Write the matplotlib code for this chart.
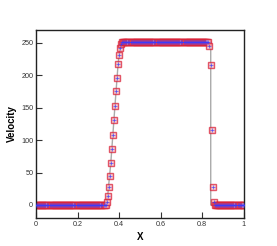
import numpy as np
import matplotlib.pyplot as plt

plt.rcParams['font.family'] = ['Liberation Sans', 'DejaVu Sans']

# datos numericos (malla uniforme dx = 0.005)
x = np.linspace(0.0, 1.0, 201)
rampa = [5, 14, 27, 45, 65, 86, 108, 131, 153, 176, 196, 217, 232, 243, 249, 251]
choque = [246, 216, 115, 27, 5]
vel = np.array([0.0] * 68 + rampa + [252.0] * 83 + choque + [0.0] * 29)

# solucion de referencia
x_ref = [0.0, 0.336, 0.345, 0.36, 0.38, 0.395, 0.403, 0.41, 0.841, 0.841, 1.0]
v_ref = [0.0, 0.0, 14, 65, 153, 217, 240, 252, 252, 0.0, 0.0]

fig = plt.figure(figsize=(2.77, 2.46), dpi=100)
ax = fig.add_axes([0.130, 0.114, 0.750, 0.764])

ax.plot(x_ref, v_ref, color='#aaaaaa', lw=1.0, zorder=1)
ax.plot(x, vel, 's', mfc='#f4b8bc', mec='#d81830', mew=1.0, ms=4.2, alpha=0.7, zorder=2)
ax.plot(x, vel, '+', color='#3a3aff', mew=0.5, ms=3.2, alpha=0.85, zorder=3)

ax.set_xlim(0, 1)
ax.set_ylim(-20, 270)
ax.set_xticks([0, 0.2, 0.4, 0.6, 0.8, 1])
ax.set_xticklabels(['0', '0.2', '0.4', '0.6', '0.8', '1'])
ax.set_yticks([0, 50, 100, 150, 200, 250])
ax.tick_params(direction='in', length=4, width=0.8, labelsize=5.2, colors='#333333', pad=2)

for s in ax.spines.values():
    s.set_linewidth(1.0)
    s.set_color('#222222')

ax.set_xlabel('X', fontsize=7, fontweight='bold', labelpad=3)
ax.set_ylabel('Velocity', fontsize=7, fontweight='bold', labelpad=3)

fig.savefig('out.png', dpi=100)
